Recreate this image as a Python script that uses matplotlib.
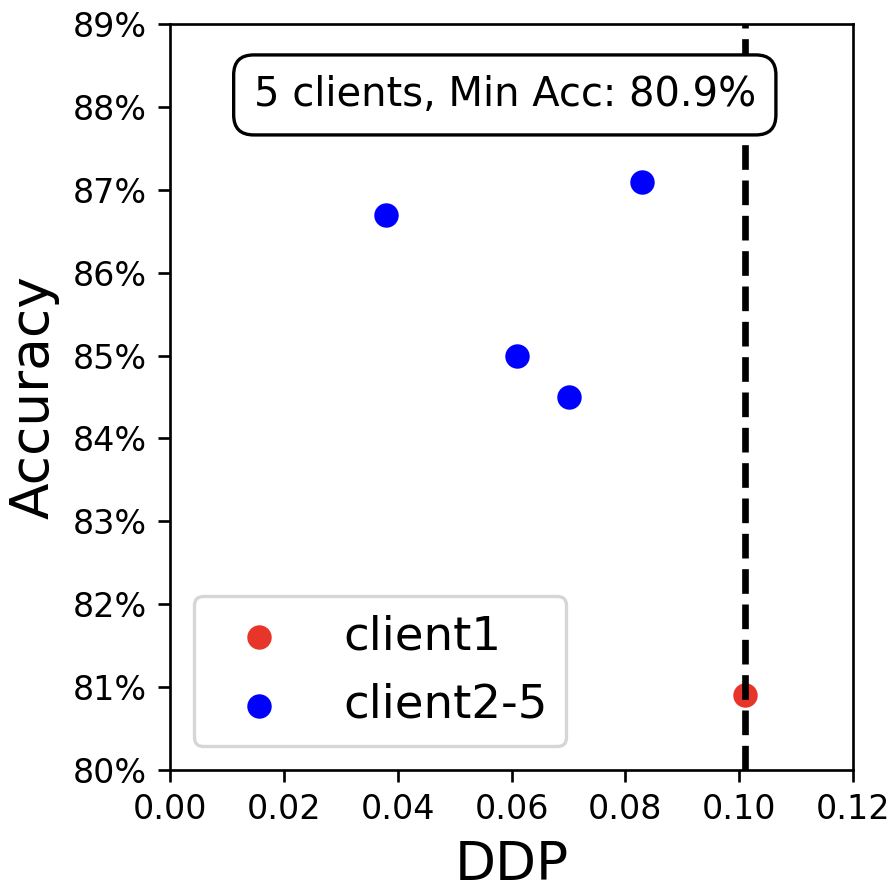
import matplotlib
matplotlib.use("Agg")
from matplotlib import pyplot as plt
from matplotlib.ticker import FuncFormatter

RED = "#e8352a"   # client1
BLUE = "#0000ff"  # client2-5

# datos
ddp_c1 = [0.101]
acc_c1 = [80.9]
ddp_rest = [0.038, 0.083, 0.061, 0.070]
acc_rest = [86.7, 87.1, 85.0, 84.5]
umbral = 0.101
texto_caja = "5 clients, Min Acc: 80.9%"

fig = plt.figure(figsize=(896 / 240, 892 / 240), dpi=240)
ax = fig.add_axes([0.19, 0.137, 0.762, 0.836])

ax.scatter(ddp_c1, acc_c1, s=40, color=RED, label="client1", zorder=2)
ax.scatter(ddp_rest, acc_rest, s=40, color=BLUE, label="client2-5", zorder=2)
ax.axvline(umbral, color="black", linestyle="--", linewidth=2, zorder=3)

ax.set_xlim(0, 0.12)
ax.set_ylim(80, 89)
ax.set_xticks([0.0, 0.02, 0.04, 0.06, 0.08, 0.10, 0.12])
ax.set_yticks(range(80, 90))
ax.yaxis.set_major_formatter(FuncFormatter(lambda v, p: "%d%%" % v))
ax.xaxis.set_major_formatter(FuncFormatter(lambda v, p: "%.2f" % v))
ax.tick_params(labelsize=10)

ax.set_xlabel("DDP", fontsize=16)
ax.set_ylabel("Accuracy", fontsize=16)

ax.text(0.49, 0.905, texto_caja, transform=ax.transAxes, ha="center", va="center",
        fontsize=12, zorder=5,
        bbox=dict(boxstyle="round,pad=0.5", facecolor="white", edgecolor="black", linewidth=1))

ax.legend(loc="lower left", fontsize=14)

fig.savefig("out.png", dpi=240)
